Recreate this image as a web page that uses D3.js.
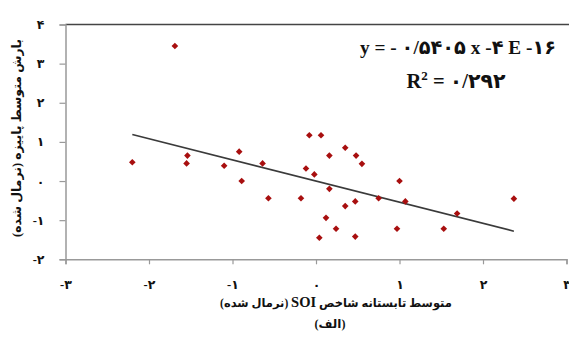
<!DOCTYPE html>
<html><head><meta charset="utf-8">
<script src="https://cdn.jsdelivr.net/npm/d3@7"></script>
<style>body{margin:0;background:#fff}svg{display:block}</style>
</head><body><svg id="c" width="569" height="340"></svg>
<script>
const soi = [-1.69,-2.20,-1.54,-1.55,-1.10,-0.92,-0.89,-0.64,-0.57,-0.18,-0.08,0.06,-0.12,-0.02,0.16,0.35,0.16,0.35,0.12,0.24,0.04,0.48,0.55,0.47,0.75,1.00,1.07,1.69,2.37,0.47,0.97,1.53];
const rain = [3.45,0.48,0.65,0.45,0.39,0.75,0.00,0.45,-0.44,-0.44,1.17,1.17,0.32,0.17,0.65,0.85,-0.20,-0.64,-0.94,-1.22,-1.45,0.65,0.44,-0.52,-0.44,0.00,-0.52,-0.83,-0.45,-1.42,-1.22,-1.22];
const slope = -0.5405, intercept = -4e-16;
const xTicks = [-3,-2,-1,0,1,2,3];
const yTicks = [-2,-1,0,1,2,3,4];
const fa = n => (n<0?"-":"") + String(Math.abs(n)).replace(/\d/g, d => "۰۱۲۳۴۵۶۷۸۹"[d]);

const svg = d3.select("#c");
const x = d3.scaleLinear().domain([-3,3]).range([65.5,566.5]);
const y = d3.scaleLinear().domain([-2,4]).range([259.3,24.5]);
const font = "'Liberation Serif','DejaVu Sans',serif";

// top border
svg.append("line").attr("x1",x(-3)).attr("x2",569).attr("y1",y(4)).attr("y2",y(4)).attr("stroke","#444").attr("stroke-width",1.5);

const xa = svg.append("g").attr("transform",`translate(0,${y(-2)})`)
  .call(d3.axisBottom(x).tickValues(xTicks).tickSize(5).tickPadding(16).tickFormat(fa));
const ya = svg.append("g").attr("transform",`translate(${x(-3)},0)`)
  .call(d3.axisLeft(y).tickValues(yTicks).tickSize(6).tickPadding(15).tickFormat(fa));
[xa,ya].forEach(a=>{
  a.select(".domain").attr("stroke","#999").attr("stroke-width",1.5);
  a.selectAll(".tick line").attr("stroke","#999").attr("stroke-width",1.2);
  a.selectAll("text").attr("font-family",font).attr("font-weight","bold").attr("font-size",12.5).attr("fill","#111").attr("direction","ltr");
});

// trend line
const xr = d3.extent(soi);
svg.append("line").attr("x1",x(xr[0])).attr("y1",y(slope*xr[0]+intercept))
  .attr("x2",x(xr[1])).attr("y2",y(slope*xr[1]+intercept))
  .attr("stroke","#3a3a3a").attr("stroke-width",1.6);

// points
const sym = d3.symbol().type(d3.symbolDiamond2).size(28);
svg.append("g").selectAll("path").data(soi.map((v,i)=>[v,rain[i]])).join("path")
  .attr("transform",d=>`translate(${x(d[0])},${y(d[1])})`).attr("d",sym).attr("fill","#a80f0f");

// equation
svg.append("text").attr("x",458).attr("y",54).attr("text-anchor","middle").attr("direction","ltr")
  .attr("font-family",font).attr("font-weight","bold").attr("font-size",19.5).attr("fill","#111")
  .attr("textLength",196).attr("lengthAdjust","spacingAndGlyphs")
  .text("y = - ۰/۵۴۰۵ x -۴ E -۱۶");
const r2 = svg.append("text").attr("x",456).attr("y",88).attr("text-anchor","middle").attr("direction","ltr")
  .attr("font-family",font).attr("font-weight","bold").attr("font-size",20.5).attr("fill","#111");
r2.append("tspan").text("R");
r2.append("tspan").attr("dy",-8).attr("font-size",13).text("2");
r2.append("tspan").attr("dy",8).text(" = ۰/۲۹۲");

// x-axis title (single RTL text, SOI slightly larger)
const xt = svg.append("text").attr("y",307).attr("direction","rtl").attr("text-anchor","middle")
  .attr("font-family",font).attr("font-weight","bold").attr("font-size",11.5).attr("fill","#111");
xt.append("tspan").text("متوسط تابستانه شاخص ");
xt.append("tspan").attr("font-size",14.5).text("SOI");
xt.append("tspan").text(" (نرمال شده)");
let xb = xt.node().getBBox();
xt.attr("x", 336 - (xb.x + xb.width/2));

const lt = svg.append("text").attr("y",328).attr("direction","rtl").attr("text-anchor","middle")
  .attr("font-family",font).attr("font-weight","bold").attr("font-size",12).attr("fill","#111").text("(الف)");
let lb = lt.node().getBBox();
lt.attr("x", 330 - (lb.x + lb.width/2));

// y-axis title
const yt = svg.append("text").attr("text-anchor","middle").attr("direction","rtl")
  .attr("font-family",font).attr("font-weight","bold").attr("font-size",12.5).attr("fill","#111")
  .attr("transform","translate(21,138) rotate(-90)")
  .text("بارش متوسط پاییزه (نرمال شده)");
let yb = yt.node().getBBox();
if (yb.width > 220) { yt.attr("textLength",214).attr("lengthAdjust","spacingAndGlyphs"); yb = yt.node().getBBox(); }
yt.attr("x", -(yb.x + yb.width/2));
</script></body></html>
